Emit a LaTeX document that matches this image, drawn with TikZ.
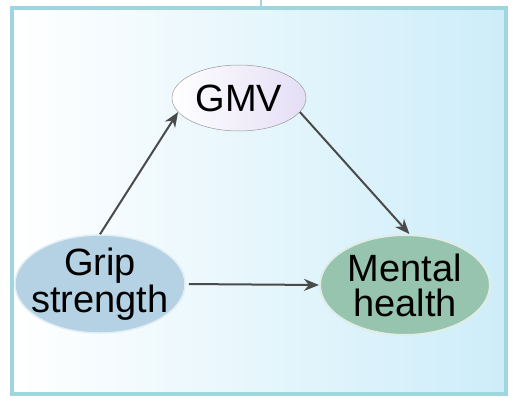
\documentclass[tikz,border=0pt]{standalone}
\usepackage{fontspec}
\setmainfont{Liberation Sans}
\usetikzlibrary{arrows.meta,shapes.geometric}
\definecolor{framecol}{HTML}{9FD5DF}
\definecolor{bgright}{HTML}{CDEDF9}
\definecolor{gripcol}{HTML}{B4D2E3}
\definecolor{mentalcol}{HTML}{97C4AF}
\definecolor{gmvcol}{HTML}{E4DEF5}
\definecolor{arrowcol}{HTML}{4A4A4A}
\begin{document}
\begin{tikzpicture}[x=1pt,y=1pt,
  var/.style={ellipse,inner xsep=-14pt,inner ysep=-10pt,align=center,font=\fontsize{38}{35}\selectfont},
  link/.style={-{Stealth[length=15pt,width=12pt]},draw=arrowcol,line width=2pt}]
% \draw[help lines] (0,0) grid (518,408);
\useasboundingbox (0,0) rectangle (518,408);
\fill[white] (0,0) rectangle (518,408);
\shade[left color=white,middle color=white!65!bgright,right color=bgright] (12,14) rectangle (506,400);
\draw[framecol,line width=3.5pt] (12,14) rectangle (506,400);
\coordinate (top) at (261,408);
\coordinate (topin) at (261,400);
\draw[framecol,line width=2pt] (top) -- (topin);
%
\node (gmv) [var,draw=black!40,line width=0.5pt,left color=white,right color=gmvcol,minimum width=134pt,minimum height=66pt] at (239,310) {GMV};
\node (grip) [var,fill=gripcol,draw=white!60!gripcol,line width=1.5pt,minimum width=170pt,minimum height=98pt] at (100,124) {Grip\\strength};
\node (mental) [var,fill=mentalcol,draw=white!70!mentalcol,line width=2pt,minimum width=170pt,minimum height=100pt] at (405,123) {Mental\\health};
%
\draw[link] (grip.north) -- (gmv.193);
\draw[link] (gmv.347) -- (mental.85);
\draw[link,shorten <=3pt] (grip.east) -- (mental.west);
\end{tikzpicture}
\end{document}
